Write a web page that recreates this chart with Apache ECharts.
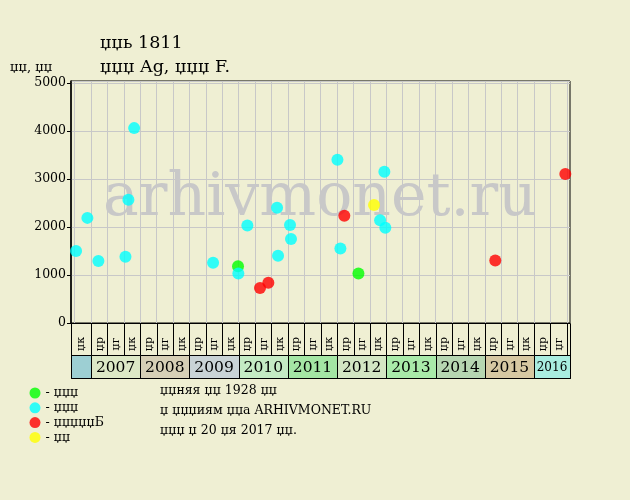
<!DOCTYPE html>
<html><head><meta charset="utf-8">
<script src="https://cdn.jsdelivr.net/npm/echarts@6/dist/echarts.min.js"></script>
<style>html,body{margin:0;padding:0;background:#efefd3;}#c{width:630px;height:500px;}</style>
</head><body><div id="c"></div>
<script>
// ---- data ----
const periodLabels = ['џк',
  'џр','џг','џк', 'џр','џг','џк', 'џр','џг','џк', 'џр','џг','џк', 'џр','џг','џк',
  'џр','џг','џк', 'џр','џг','џк', 'џр','џг','џк', 'џр','џг','џк',
  'џр','џг'];
const yearLabels = ['', '2007','2008','2009','2010','2011','2012','2013','2014','2015','2016'];
const yearSpans  = [1, 3,3,3,3,3,3,3,3,3,2];
const yearColors = ['#9dcfd3','#dde8c6','#d6cfb6','#c9d3d6','#c4ebc4','#a4e6a4','#d3e6c3','#a9eaa9','#b6d6b1','#d6c8a2','#a9ede0'];

const greenX  = [9.96, 17.30];
const greenY  = [1180, 1030];
const cyanX   = [0.09,0.78,1.45,3.10,3.28,3.63,8.44,9.98,10.53,12.34,12.40,13.13,13.19,16.02,16.20,18.62,18.88,18.94];
const cyanY   = [1500,2190,1290,1380,2570,4060,1255,1030,2030,2400,1400,2040,1750,3400,1550,2140,3150,1985];
const redX    = [11.30,11.81,16.44,25.64,29.91];
const redY    = [730,840,2235,1300,3105];
const yellowX = [18.25];
const yellowY = [2460];

const legendText = {g:'- џџџ', c:'- џџџ', r:'- џџџџџБ', y:'- џџ'};
const titleLine1 = 'џџь 1811';
const titleLine2 = 'џџџ Ag, џџџ F.';
const yName = 'џџ, џџ';
const notes = ['џџняя џџ 1928 џџ', 'џ џџџиям џџа ARHIVMONET.RU', 'џџџ џ 20 џя 2017 џџ.'];
const watermark = 'arhivmonet.ru';

// ---- layout ----
const FONT = '"DejaVu Serif"';
const FL = 71, FR = 570, FT = 81, FB = 323;
const DL = 74.6, DR = 566.8;
const YMAX = 5000 * (FB - FT) / 240;
const ROW1_T = 323, ROW1_B = 355, ROW2_B = 378;
const NCOL = periodLabels.length;

const zip = (xs, ys) => xs.map((x, i) => [x, ys[i]]);
const crisp = v => Math.round(v) + 0.5;

const yearData = [];
{ let s = 0; yearSpans.forEach(n => { yearData.push([s, s + n]); s += n; }); }

const chart = echarts.init(document.getElementById('c'), null, {renderer: 'canvas'});
const scatterBase = {type: 'scatter', xAxisIndex: 0, yAxisIndex: 0, symbol: 'circle', symbolSize: 12, z: 3};

chart.setOption({
  backgroundColor: '#efefd3',
  animation: false,
  title: [
    {text: titleLine1, left: 100, top: 34, padding: 0, textStyle: {fontFamily: FONT, fontWeight: 'normal', fontSize: 17.5, color: '#000'}},
    {text: titleLine2, left: 100, top: 58, padding: 0, textStyle: {fontFamily: FONT, fontWeight: 'normal', fontSize: 17.5, color: '#000'}},
    {text: yName, left: 10, top: 61, padding: 0, textStyle: {fontFamily: FONT, fontWeight: 'normal', fontSize: 13, color: '#000'}}
  ],
  legend: {
    orient: 'vertical', left: 29.5, top: 386.5, padding: 0, itemGap: 1.8,
    itemWidth: 11, itemHeight: 11, icon: 'circle',
    data: ['g','c','r','y'],
    formatter: n => legendText[n],
    textStyle: {fontFamily: FONT, fontSize: 12.5, color: '#000'}
  },
  grid: [
    {left: DL, right: 630 - DR, top: FT, bottom: 500 - FB},
    {left: FL, right: 630 - FR, top: FT, bottom: 500 - FB, show: true, borderColor: '#000', borderWidth: 1, backgroundColor: 'transparent'},
    {left: DL, right: 630 - DR, top: ROW1_T, bottom: 500 - ROW2_B}
  ],
  xAxis: [
    {gridIndex: 0, type: 'value', min: 0, max: NCOL, interval: 1,
     axisLine: {show: false}, axisTick: {show: false}, axisLabel: {show: false},
     splitLine: {show: true, lineStyle: {color: '#c8c8c8', width: 1}}},
    {gridIndex: 1, type: 'value', min: 0, max: 1, show: false},
    {gridIndex: 2, type: 'value', min: 0, max: NCOL, show: false}
  ],
  yAxis: [
    {gridIndex: 0, type: 'value', min: 0, max: YMAX, show: false},
    {gridIndex: 1, type: 'value', min: 0, max: YMAX, interval: 1000,
     axisLine: {show: true, lineStyle: {color: '#000', width: 1.5}},
     axisTick: {show: true, length: 4, lineStyle: {color: '#000'}},
     axisLabel: {showMaxLabel: false, margin: 5, fontFamily: FONT, fontSize: 12.5, color: '#000', formatter: v => String(v)},
     splitLine: {show: true, lineStyle: {color: '#c8c8c8', width: 1}}},
    {gridIndex: 2, type: 'value', min: 0, max: 1, show: false}
  ],
  graphic: [
    {type: 'text', z: 1, x: 320, y: 199, style: {text: watermark, font: '60px ' + FONT, fill: '#c8c8c8', align: 'center', verticalAlign: 'middle'}},
    {type: 'rect', z: 5, shape: {x: FL + 0.5, y: ROW1_T + 0.5, width: FR - FL, height: ROW2_B - ROW1_T}, style: {fill: 'none', stroke: '#000', lineWidth: 1}},
    ...notes.map((t, i) => ({type: 'text', x: 160, y: [391, 410.5, 431][i], style: {text: t, font: '12.5px ' + FONT, fill: '#000', verticalAlign: 'middle'}}))
  ],
  series: [
    Object.assign({}, scatterBase, {name: 'g', data: zip(greenX, greenY), itemStyle: {color: '#00ff00'}}),
    Object.assign({}, scatterBase, {name: 'c', data: zip(cyanX, cyanY), itemStyle: {color: '#00ffff'}}),
    Object.assign({}, scatterBase, {name: 'r', data: zip(redX, redY), itemStyle: {color: '#ff0000'}}),
    Object.assign({}, scatterBase, {name: 'y', data: zip(yellowX, yellowY), itemStyle: {color: '#ffff00'}}),
    {
      type: 'custom', name: 'periods', xAxisIndex: 2, yAxisIndex: 2, clip: false, z: 4, silent: true,
      data: periodLabels.map((l, i) => [i, 0]),
      renderItem(params, api) {
        const k = api.value(0);
        const x0 = k === 0 ? FL : api.coord([k, 0])[0];
        const x1 = api.coord([k + 1, 0])[0];
        const a = crisp(x0), b = crisp(x1);
        return {type: 'group', children: [
          {type: 'rect', shape: {x: a, y: ROW1_T + 0.5, width: b - a, height: ROW1_B - ROW1_T}, style: {fill: 'none', stroke: '#000', lineWidth: 1}},
          {type: 'text', x: (x0 + x1) / 2 + 0.5, y: 344, rotation: Math.PI / 2,
           style: {text: periodLabels[params.dataIndex], font: '11px ' + FONT, fill: '#000', align: 'center', verticalAlign: 'middle'}}
        ]};
      }
    },
    {
      type: 'custom', name: 'years', xAxisIndex: 2, yAxisIndex: 2, clip: false, z: 4, silent: true,
      data: yearData,
      renderItem(params, api) {
        const s = api.value(0), e = api.value(1);
        const x0 = s === 0 ? FL : api.coord([s, 0])[0];
        const x1 = e === NCOL ? FR : api.coord([e, 0])[0];
        const a = crisp(x0), b = crisp(x1);
        const i = params.dataIndex;
        const fs = (e - s) < 3 ? 12 : 15.5;
        return {type: 'group', children: [
          {type: 'rect', shape: {x: a, y: ROW1_B + 0.5, width: b - a, height: ROW2_B - ROW1_B}, style: {fill: yearColors[i], stroke: '#000', lineWidth: 1}},
          {type: 'text', x: (x0 + x1) / 2, y: (ROW1_B + ROW2_B) / 2 + 1,
           style: {text: yearLabels[i], font: fs + 'px ' + FONT, fill: '#000', align: 'center', verticalAlign: 'middle'}}
        ]};
      }
    }
  ]
});
</script>
</body></html>
